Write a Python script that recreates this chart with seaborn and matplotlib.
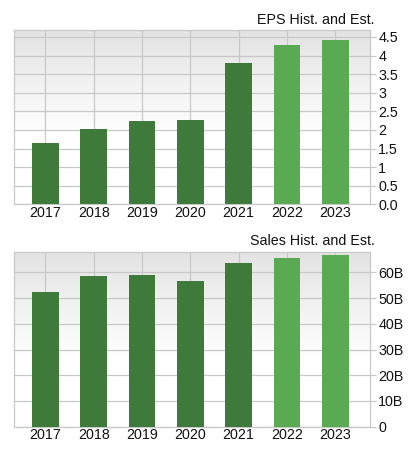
import numpy as np
import pandas as pd
import matplotlib
matplotlib.use("Agg")
import matplotlib.pyplot as plt
import seaborn as sns
from matplotlib.ticker import FuncFormatter

years = ["2017", "2018", "2019", "2020", "2021", "2022", "2023"]
kind = ["Hist", "Hist", "Hist", "Hist", "Hist", "Est", "Est"]
eps = [1.64, 2.02, 2.24, 2.27, 3.81, 4.28, 4.42]
sales_b = [52.2, 58.7, 59.1, 56.7, 63.6, 65.4, 66.6]
eps_ticks = [0, 0.5, 1, 1.5, 2, 2.5, 3, 3.5, 4, 4.5]
sales_ticks = [0, 10, 20, 30, 40, 50, 60]
titles = ["EPS Hist. and Est.", "Sales Hist. and Est."]

sns.set_style("white")
plt.rcParams["font.family"] = ["Liberation Sans", "DejaVu Sans"]

palette = {"Hist": "#3e7b3a", "Est": "#59aa52"}

W, H = 410, 449
fig = plt.figure(figsize=(W / 100, H / 100), dpi=100)

def fmt_eps(v, pos):
    if abs(v) < 1e-9:
        return "0.0"
    if abs(v - round(v)) < 1e-9:
        return f"{int(round(v))}"
    return f"{v:.1f}"

def fmt_sales(v, pos):
    if abs(v) < 1e-9:
        return "0"
    return f"{int(round(v))}B"

panels = [
    dict(vals=eps, ticks=eps_ticks, ymax=4.68, fmt=fmt_eps, top=30.3, bot=204.3, title_y=20),
    dict(vals=sales_b, ticks=sales_ticks, ymax=67.8, fmt=fmt_sales, top=252.3, bot=426.7, title_y=241),
]

grad = np.linspace(0, 1, 256).reshape(-1, 1)

for p, title in zip(panels, titles):
    left, right = 14, 370
    ax = fig.add_axes([left / W, 1 - p["bot"] / H, (right - left) / W, (p["bot"] - p["top"]) / H])
    df = pd.DataFrame({"year": years, "value": p["vals"], "kind": kind})
    # gradient background: gray at top fading to white
    g = np.clip(grad / 0.6, 0, 1)
    top_c = np.array([0.89, 0.89, 0.89])
    img = top_c[None, None, :] * (1 - g[..., None]) + np.ones(3)[None, None, :] * g[..., None]
    ax.imshow(img, extent=[0, 1, 0, 1], origin="upper", transform=ax.transAxes,
              aspect="auto", zorder=0)
    sns.barplot(data=df, x="year", y="value", hue="kind", palette=palette, dodge=False,
                width=0.55, legend=False, ax=ax, zorder=3, edgecolor="none", saturation=1)
    ax.set_xlim(-0.65, 6.72)
    ax.set_ylim(0, p["ymax"])
    ax.yaxis.tick_right()
    ax.set_yticks(p["ticks"])
    ax.yaxis.set_major_formatter(FuncFormatter(p["fmt"]))
    ax.set_xlabel("")
    ax.set_ylabel("")
    ax.set_axisbelow(True)
    ax.grid(True, color="#c8c8c8", linewidth=0.9, zorder=1)
    for s in ax.spines.values():
        s.set_color("#c8c8c8")
        s.set_linewidth(0.9)
    ax.tick_params(axis="y", right=True, length=4, width=0.9, color="#c8c8c8",
                   labelsize=10.3, pad=2, labelcolor="#111111")
    ax.tick_params(axis="x", bottom=False, length=0, labelsize=10.3, pad=1, labelcolor="#111111")
    fig.text(375 / W, 1 - p["title_y"] / H, title, ha="right", va="center", fontsize=10.3, color="#111111")

fig.savefig("out.png", dpi=100)
